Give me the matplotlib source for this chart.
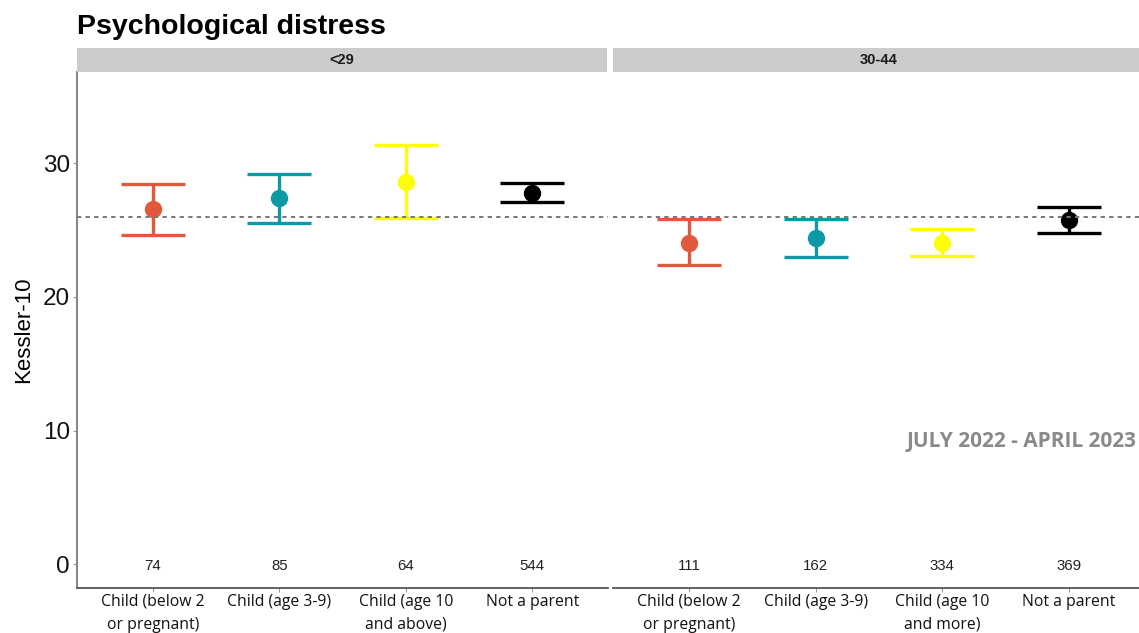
import matplotlib
matplotlib.use("Agg")
import matplotlib.pyplot as plt

# Kessler-10 means with 95% intervals, by parental status within age group
panels = ["<29", "30-44"]
labels_young = ["Child (below 2\nor pregnant)", "Child (age 3-9)",
                "Child (age 10\nand above)", "Not a parent"]
labels_mid = ["Child (below 2\nor pregnant)", "Child (age 3-9)",
              "Child (age 10\nand more)", "Not a parent"]

mean_young = [26.55, 27.37, 28.61, 27.79]
low_young = [24.65, 25.55, 25.92, 27.07]
high_young = [28.44, 29.16, 31.33, 28.51]
n_young = [74, 85, 64, 544]

mean_mid = [24.05, 24.38, 24.05, 25.75]
low_mid = [22.36, 22.96, 23.06, 24.75]
high_mid = [25.80, 25.82, 25.05, 26.70]
n_mid = [111, 162, 334, 369]

overall_mean = 26.0
colors = ["#e0593d", "#0b9aa5", "#fdfd0a", "#000000"]

W, H = 1139, 633
fig = plt.figure(figsize=(W / 100, H / 100), dpi=100)


def frac(x0, y0, x1, y1):
    # pixel box -> figure fraction rectangle
    return [x0 / W, 1 - y1 / H, (x1 - x0) / W, (y1 - y0) / H]


ax_l = fig.add_axes(frac(77, 72, 608, 588))
ax_r = fig.add_axes(frac(613, 72, 1145, 588))

data = [
    (ax_l, labels_young, mean_young, low_young, high_young, n_young),
    (ax_r, labels_mid, mean_mid, low_mid, high_mid, n_mid),
]

for ax, labels, mean, low, high, n in data:
    xs = list(range(1, len(labels) + 1))
    for x, m, lo, hi, c in zip(xs, mean, low, high, colors):
        ax.errorbar([x], [m], yerr=[[m - lo], [hi - m]], fmt="o", color=c,
                    ms=11.5, elinewidth=2.4, capsize=22.7, capthick=2.4,
                    zorder=3)
    for x, cnt in zip(xs, n):
        ax.text(x, 0, str(cnt), ha="center", va="center_baseline",
                fontsize=10.8, family="Liberation Sans", color="#222222")
    ax.axhline(overall_mean, color="#777777", lw=1.4, ls=(0, (2.2, 2.2)),
               zorder=4)
    ax.set_xlim(0.4, 4.6)
    ax.set_ylim(-1.76, 36.81)
    ax.set_xticks(xs)
    ax.set_xticklabels(labels, family="Open Sans", fontsize=11.3,
                       linespacing=1.6, color="#111111")
    ax.tick_params(axis="x", length=3, color="#999999", pad=1)
    for side in ["top", "right"]:
        ax.spines[side].set_visible(False)
    ax.spines["bottom"].set_color("#555555")
    ax.spines["bottom"].set_linewidth(1.3)

ax_l.set_yticks([0, 10, 20, 30])
ax_l.set_yticklabels(["0", "10", "20", "30"], family="Liberation Sans",
                     fontsize=17.5, color="#111111")
ax_l.tick_params(axis="y", length=3, color="#999999", pad=2)
ax_l.spines["left"].set_color("#888888")
ax_l.spines["left"].set_linewidth(1.5)
ax_l.set_ylabel("Kessler-10", family="Liberation Sans", fontsize=16,
                labelpad=6)

ax_r.spines["left"].set_visible(False)
ax_r.set_yticks([])

# facet strips
for (x0, x1), name in zip([(77, 607), (613, 1145)], panels):
    sx = fig.add_axes(frac(x0, 48, x1, 72))
    sx.set_facecolor("#cccccc")
    sx.set_xticks([])
    sx.set_yticks([])
    for s in sx.spines.values():
        s.set_visible(False)
    sx.text(0.5, 0.5, name, transform=sx.transAxes, ha="center",
            va="center", fontsize=10.5, fontweight="bold",
            family="Liberation Sans", color="#1a1a1a")

fig.text(77 / W, 1 - 27 / H, "Psychological distress", ha="left",
         va="center", fontsize=20.5, fontweight="bold",
         family="Liberation Sans", color="#000000")

fig.text(1136 / W, 1 - 441 / H, "JULY 2022 - APRIL 2023", ha="right",
         va="center", fontsize=15, fontweight="bold", family="Open Sans",
         color="#8a8a8a")

fig.savefig("out.png", dpi=100)
